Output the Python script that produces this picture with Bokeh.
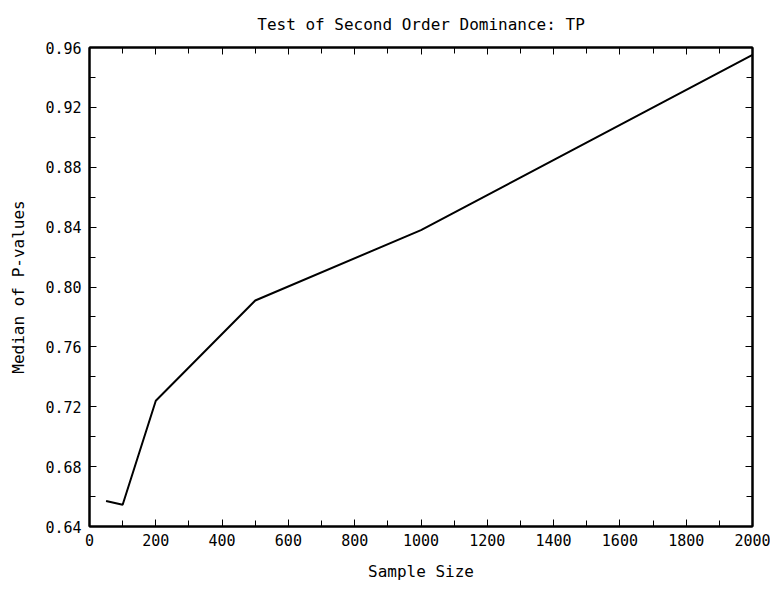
from bokeh.plotting import figure
from bokeh.models import LinearAxis, FixedTicker, Range1d, CustomJSTickFormatter
from bokeh.embed import file_html
from bokeh.resources import INLINE

sample_size = [50, 100, 200, 500, 1000, 2000]
median_p = [0.657, 0.6545, 0.724, 0.791, 0.838, 0.955]
x_ticks = list(range(0, 2001, 200))
x_minor = list(range(0, 2001, 100))
y_ticks = [0.64, 0.68, 0.72, 0.76, 0.80, 0.84, 0.88, 0.92, 0.96]
y_minor = [0.64 + 0.02 * i for i in range(17)]

FONT = "DejaVu Sans Mono"

p = figure(width=770, height=586, output_backend="svg", toolbar_location=None,
           x_range=Range1d(0, 2000), y_range=Range1d(0.64, 0.96),
           min_border_left=89, min_border_right=18, min_border_top=47, min_border_bottom=60,
           x_axis_label="Sample Size", y_axis_label="Median of P-values")
p.title.text = "Test of Second Order Dominance: TP"
p.title.align = "center"
p.title.vertical_align = "top"
p.title.text_font = FONT
p.title.text_font_size = "16px"
p.title.text_font_style = "normal"
p.title.text_color = "black"
p.title.standoff = 24
p.grid.visible = False
p.outline_line_color = "black"
p.outline_line_width = 2
p.background_fill_color = "white"
p.border_fill_color = "white"

p.line(sample_size, median_p, line_color="black", line_width=2)

def style(ax, ticks, minor, labels=True):
    ax.ticker = FixedTicker(ticks=ticks, minor_ticks=minor)
    ax.major_tick_in = 7
    ax.major_tick_out = 0
    ax.minor_tick_in = 6
    ax.minor_tick_out = 0
    ax.axis_line_color = "black"
    ax.axis_line_width = 2
    ax.major_tick_line_color = "black"
    ax.minor_tick_line_color = "black"
    ax.major_tick_line_width = 1
    ax.minor_tick_line_width = 1
    ax.major_label_text_font = FONT
    ax.major_label_text_font_size = "15px"
    ax.major_label_text_color = "black"
    ax.axis_label_text_font = FONT
    ax.axis_label_text_font_size = "16px"
    ax.axis_label_text_font_style = "normal"
    ax.axis_label_text_color = "black"
    if not labels:
        ax.formatter = CustomJSTickFormatter(code="return '';")
        ax.major_label_standoff = 0
        ax.axis_label_standoff = 0

style(p.xaxis[0], x_ticks, x_minor)
style(p.yaxis[0], y_ticks, y_minor)
p.xaxis[0].major_label_standoff = 7
p.yaxis[0].major_label_standoff = 8
p.yaxis[0].formatter = CustomJSTickFormatter(code="return tick.toFixed(2);")
p.xaxis[0].axis_label_standoff = 13
p.yaxis[0].axis_label_standoff = 14

top = LinearAxis()
style(top, x_ticks, x_minor, labels=False)
p.add_layout(top, "above")
right = LinearAxis()
style(right, y_ticks, y_minor, labels=False)
p.add_layout(right, "right")

open("out.html", "w").write(file_html(p, INLINE))
